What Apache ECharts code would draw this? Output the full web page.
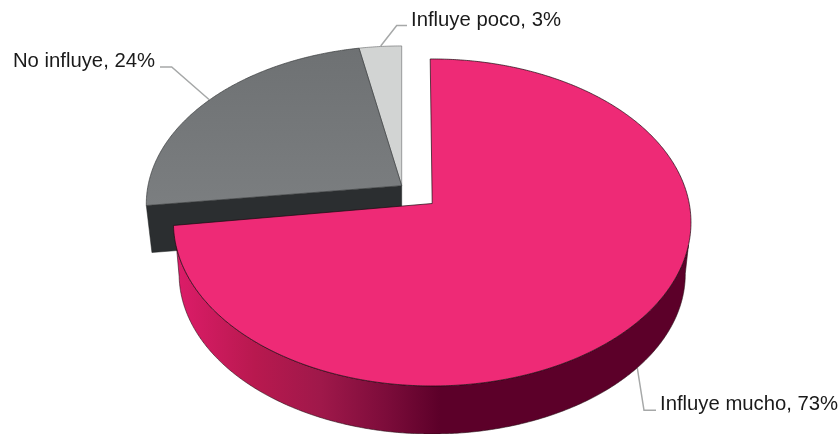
<!DOCTYPE html>
<html>
<head>
<meta charset="utf-8">
<style>html,body{margin:0;padding:0;background:#fff}#c{width:840px;height:434px}</style>
<script src="https://cdn.jsdelivr.net/npm/echarts@6/dist/echarts.min.js"></script>
</head>
<body>
<div id="c"></div>
<script>
const categories = ['Influye mucho', 'No influye', 'Influye poco'];
const values = [73, 24, 3];

// layout of the tilted disc (perspective view of a unit circle)
const tilt = 0.116, radiusX = 257.8, radiusY = 161.3;
const views = [
  { ax: 432.2, ay: 203.5, sx: 0.997, sy: 1, rot: -0.5, depth: 52, depthScale: 0.978 },
  { ax: 401.7, ay: 185.7, sx: 0.984, sy: 0.967, rot: 0, depth: 47.4, depthScale: 0.978 },
  { ax: 401.7, ay: 185.7, sx: 0.984, sy: 0.967, rot: 0, depth: 47.4, depthScale: 0.978 }
];
const leaders = [
  [[637.3, 368], [644, 410.3], [656, 410.3]],
  [[209, 99.5], [171.7, 67], [160, 67]],
  [[380.7, 46], [396.7, 25.5], [407, 25.5]]
];
const labelAnchors = [
  { x: 660, y: 404.5, align: 'left' },
  { x: 155, y: 61.5, align: 'right' },
  { x: 411, y: 20.5, align: 'left' }
];
const total = values.reduce((a, b) => a + b, 0);

function project(v, deg, scale, dy) {
  const t = (deg + v.rot) * Math.PI / 180;
  const X = Math.sin(t), Y = Math.cos(t), d = 1 + tilt * Y;
  return [
    v.ax + scale * v.sx * radiusX * X / d,
    v.ay + dy - scale * v.sy * radiusY * Y / d
  ];
}
function arc(v, from, to, scale, dy) {
  const n = Math.max(2, Math.ceil(Math.abs(to - from) * 2));
  const pts = [];
  for (let i = 0; i <= n; i++) pts.push(project(v, from + (to - from) * i / n, scale, dy));
  return pts;
}
const C = echarts.graphic.LinearGradient;
function renderSlice(params, api) {
  const i = api.value(0), value = api.value(1);
  let before = 0;
  for (let k = 0; k < i; k++) before += values[k];
  const a0 = before / total * 360, a1 = (before + value) / total * 360;
  const v = views[i];
  const kids = [];
  if (i === 0) {
    const wall = arc(v, 105, 255, 1, 0).concat(arc(v, 263, 97, v.depthScale, v.depth));
    kids.push({
      type: 'polygon', shape: { points: wall },
      style: {
        fill: new C(176, 0, 440, 0, [
          { offset: 0, color: '#dd1c69' },
          { offset: 0.3, color: '#b8194f' },
          { offset: 0.55, color: '#9f184a' },
          { offset: 0.8, color: '#7c0c3a' },
          { offset: 1, color: '#5c0029' }
        ], true),
        stroke: '#2a1018', lineWidth: 0.6
      }
    });
  }
  if (i === 1) {
    const tip = project(v, a0, 1, 0), apex = [v.ax, v.ay];
    const tipB = project(v, a0, v.depthScale, v.depth);
    kids.push({
      type: 'polygon',
      shape: { points: [tip, apex, [v.ax, v.ay + v.depth], tipB] },
      style: { fill: '#2b2e30', stroke: '#1e2021', lineWidth: 0.5 }
    });
  }
  const top = [[v.ax, v.ay]].concat(arc(v, a0, a1, 1, 0));
  const fills = [
    '#ee2a76',
    new C(0, 0, 0, 1, [{ offset: 0, color: '#6e7173' }, { offset: 1, color: '#7b7e80' }]),
    '#d2d4d3'
  ];
  const strokes = ['#1a0a10', '#3a3c3d', '#77797a'];
  kids.push({
    type: 'polygon', shape: { points: top },
    style: { fill: fills[i], stroke: strokes[i], lineWidth: 0.7 }
  });
  kids.push({
    type: 'polyline', shape: { points: leaders[i] }, z2: -1,
    style: { fill: null, stroke: '#a6a8a8', lineWidth: 1.5 }
  });
  kids.push({
    type: 'text',
    style: {
      x: labelAnchors[i].x, y: labelAnchors[i].y,
      text: categories[i] + ', ' + value + '%',
      align: labelAnchors[i].align, verticalAlign: 'middle',
      font: '20.3px "Liberation Sans", Arial, sans-serif', fill: '#1a1a1a'
    }
  });
  return { type: 'group', children: kids };
}

const chart = echarts.init(document.getElementById('c'), null, { renderer: 'canvas' });
chart.setOption({
  animation: false,
  backgroundColor: '#ffffff',
  series: [{
    type: 'custom',
    coordinateSystem: 'none',
    silent: true,
    clip: false,
    renderItem: renderSlice,
    // the farthest slice is drawn first so the main slice sits in front
    data: values.map((val, i) => [i, val]).reverse()
  }]
});
</script>
</body>
</html>
